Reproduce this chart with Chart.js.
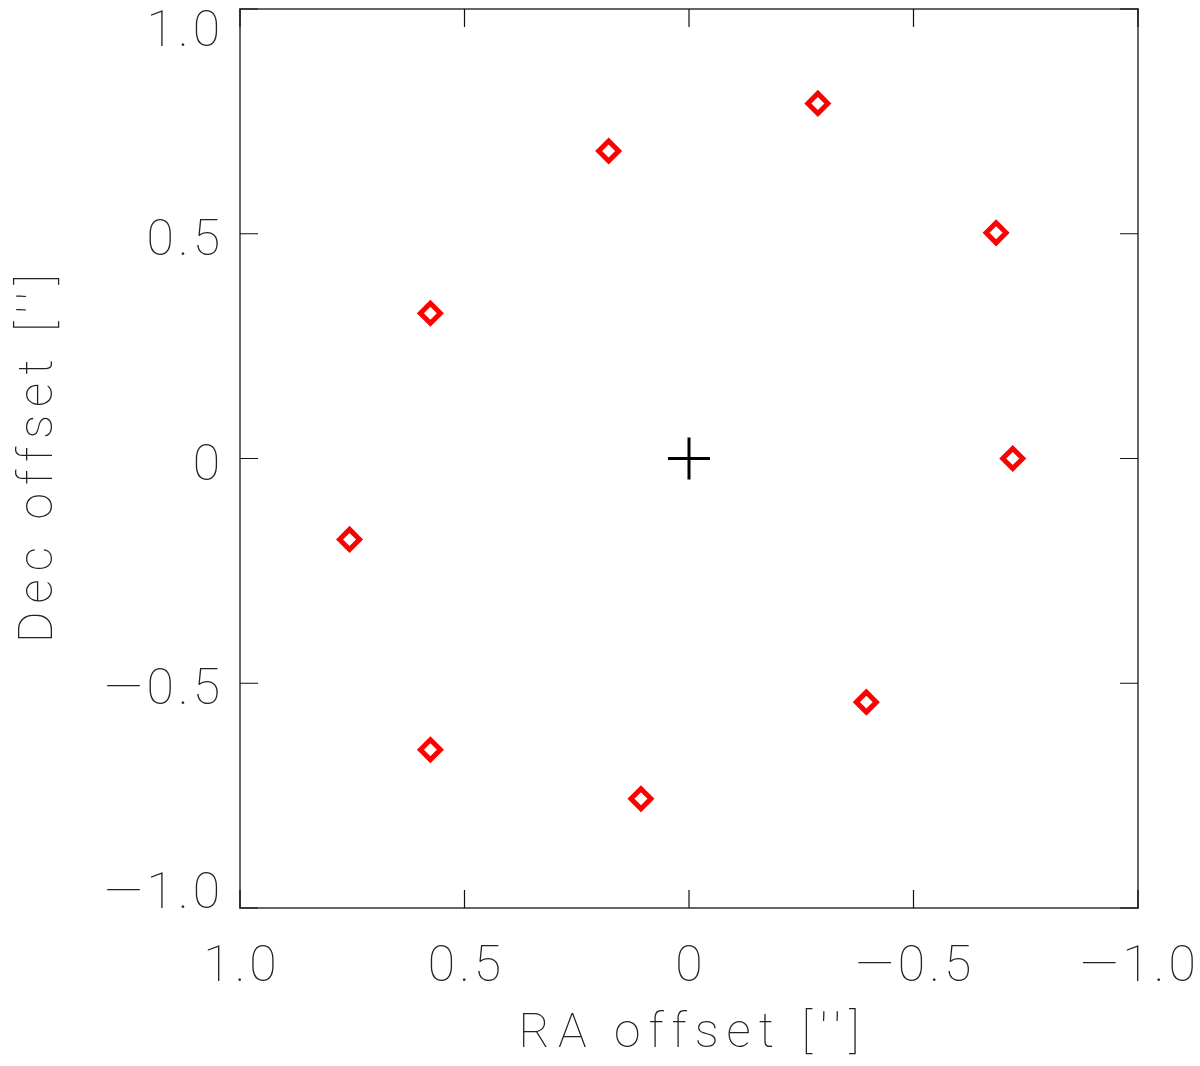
<!DOCTYPE html>
<html>
<head>
<meta charset="utf-8">
<script src="https://cdn.jsdelivr.net/npm/chart.js@4/dist/chart.umd.min.js"></script>
<style>
  html, body { margin: 0; padding: 0; background: #ffffff; }
  canvas { display: block; }
</style>
</head>
<body>
<canvas id="c" width="1200" height="1066"></canvas>
<script>
// Data
const raOffsets  = [-0.287, 0.179, -0.684, 0.576, -0.721, 0.756, -0.395, 0.576, 0.107];
const decOffsets = [ 0.790, 0.684,  0.502, 0.323,  0.000, -0.180, -0.542, -0.648, -0.757];
const centerRA  = [0];
const centerDec = [0];
const xTickValues = [1.0, 0.5, 0, -0.5, -1.0];
const xTickLabels = ['1.0', '0.5', '0', '\u20140.5', '\u20141.0'];
const yTickValues = [1.0, 0.5, 0, -0.5, -1.0];
const yTickLabels = ['1.0', '0.5', '0', '\u20140.5', '\u20141.0'];
const xTitle = 'RA offset [\u2032\u2032]';
const yTitle = 'Dec offset [\u2032\u2032]';

const FONT = '100 50px "Roboto", "DejaVu Sans", sans-serif';
const TITLE_FONT = '100 48px "Roboto", "DejaVu Sans", sans-serif';
const TICK_SPACING = 4;
const TITLE_SPACING = 8;

const framePlugin = {
  id: 'frame',
  afterDatasetsDraw(chart) {
    const ctx = chart.ctx;
    const xs = chart.scales.x, ys = chart.scales.y;
    const L = xs.getPixelForValue(1), R = xs.getPixelForValue(-1);
    const T = ys.getPixelForValue(1), B = ys.getPixelForValue(-1);
    ctx.save();
    // frame
    ctx.strokeStyle = '#666666';
    ctx.lineWidth = 2;
    ctx.strokeRect(L, T, R - L, B - T);
    // ticks (inside, all four sides)
    ctx.strokeStyle = '#111111';
    ctx.lineWidth = 1.2;
    const tl = 18;
    ctx.beginPath();
    xTickValues.forEach(v => {
      const px = xs.getPixelForValue(v);
      ctx.moveTo(px, B); ctx.lineTo(px, B - tl);
      ctx.moveTo(px, T); ctx.lineTo(px, T + tl);
    });
    yTickValues.forEach(v => {
      const py = ys.getPixelForValue(v);
      ctx.moveTo(L, py); ctx.lineTo(L + tl, py);
      ctx.moveTo(R, py); ctx.lineTo(R - tl, py);
    });
    ctx.stroke();
    // tick labels
    ctx.fillStyle = '#222222';
    ctx.font = FONT;
    try { ctx.letterSpacing = TICK_SPACING + 'px'; } catch (e) {}
    ctx.textAlign = 'center';
    ctx.textBaseline = 'alphabetic';
    xTickValues.forEach((v, i) => {
      ctx.fillText(xTickLabels[i], xs.getPixelForValue(v) + TICK_SPACING / 2, B + 73);
    });
    ctx.textAlign = 'right';
    ctx.textBaseline = 'alphabetic';
    const capH = 36;
    yTickValues.forEach((v, i) => {
      const py = ys.getPixelForValue(v);
      // keep labels within the vertical extent of the frame (as PGPLOT does)
      let base = py + capH / 2 + 3;
      if (base - capH < T) base = T + capH + 1;
      if (base > B) base = B;
      ctx.fillText(yTickLabels[i], L - 20 + TICK_SPACING, base);
    });
    // axis titles
    ctx.font = TITLE_FONT;
    try { ctx.letterSpacing = TITLE_SPACING + 'px'; } catch (e) {}
    ctx.textAlign = 'center';
    ctx.textBaseline = 'alphabetic';
    ctx.fillText(xTitle, (L + R) / 2 + TITLE_SPACING / 2, B + 139);
    ctx.save();
    ctx.translate(52, (T + B) / 2);
    ctx.rotate(-Math.PI / 2);
    ctx.fillText(yTitle, TITLE_SPACING / 2, 0);
    ctx.restore();
    ctx.restore();
  }
};

new Chart(document.getElementById('c'), {
  type: 'scatter',
  data: {
    datasets: [
      {
        label: 'positions',
        data: raOffsets.map((x, i) => ({ x: x, y: decOffsets[i] })),
        pointStyle: 'rectRot',
        radius: 10,
        borderWidth: 5,
        borderColor: '#ff0000',
        backgroundColor: 'rgba(0,0,0,0)'
      },
      {
        label: 'center',
        data: centerRA.map((x, i) => ({ x: x, y: centerDec[i] })),
        pointStyle: 'cross',
        radius: 21,
        borderWidth: 3,
        borderColor: '#000000',
        backgroundColor: '#000000'
      }
    ]
  },
  options: {
    responsive: false,
    animation: false,
    events: [],
    layout: { autoPadding: false, padding: { left: 240, right: 62, top: 9, bottom: 158 } },
    scales: {
      x: { type: 'linear', min: -1, max: 1, reverse: true, display: false },
      y: { type: 'linear', min: -1, max: 1, display: false }
    },
    plugins: { legend: { display: false }, tooltip: { enabled: false } },
    clip: false
  },
  plugins: [framePlugin]
});
</script>
</body>
</html>
